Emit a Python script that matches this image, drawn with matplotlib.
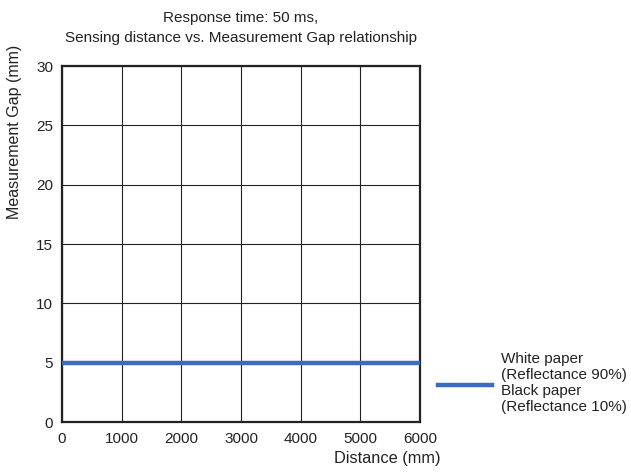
import matplotlib
matplotlib.use("Agg")
import matplotlib.pyplot as plt

plt.rcParams['font.family'] = ['Liberation Sans', 'DejaVu Sans']

distance = [0, 6000]
gap = [5, 5]
x_ticks = [0, 1000, 2000, 3000, 4000, 5000, 6000]
y_ticks = [0, 5, 10, 15, 20, 25, 30]
legend_text = "White paper\n(Reflectance 90%)\nBlack paper\n(Reflectance 10%)"
title_lines = ["Response time: 50 ms,",
               "Sensing distance vs. Measurement Gap relationship"]

W, H = 631, 473
fig = plt.figure(figsize=(W / 100, H / 100), dpi=100)
ax = fig.add_axes([62 / W, 1 - 422 / H, 358 / W, 356 / H])

line_color = '#3a6cbf'
text_color = '#222222'
ax.plot(distance, gap, color=line_color, linewidth=3.2, solid_capstyle='butt', zorder=3)

ax.set_xlim(0, 6000)
ax.set_ylim(0, 30)
ax.set_xticks(x_ticks)
ax.set_yticks(y_ticks)
ax.grid(True, color=text_color, linewidth=0.8)
ax.tick_params(length=0, labelsize=11, colors=text_color)
ax.tick_params(axis='x', pad=7)
ax.tick_params(axis='y', pad=6.5)
for s in ax.spines.values():
    s.set_linewidth(1.6)
    s.set_color(text_color)

# labels placed in figure pixels
fig.text(441 / W, 1 - 458 / H, "Distance (mm)", fontsize=11.8, color=text_color,
         ha='right', va='center')
fig.text(15 / W, 1 - 132 / H, "Measurement Gap (mm)", fontsize=11.5, color=text_color,
         ha='center', va='center', rotation=90)
fig.text(241 / W, 1 - 22 / H, title_lines[0], fontsize=11, color=text_color,
         ha='center', va='baseline')
fig.text(241 / W, 1 - 42 / H, title_lines[1], fontsize=11, color=text_color,
         ha='center', va='baseline')

# legend
fig.lines.append(plt.Line2D([438 / W, 492 / W], [1 - 385 / H, 1 - 385 / H],
                            transform=fig.transFigure, color=line_color, linewidth=3.2))
fig.text(501 / W, 1 - 383 / H, legend_text, fontsize=11, color=text_color,
         va='center', ha='left', linespacing=1.2)

fig.savefig("out.png", dpi=100)
